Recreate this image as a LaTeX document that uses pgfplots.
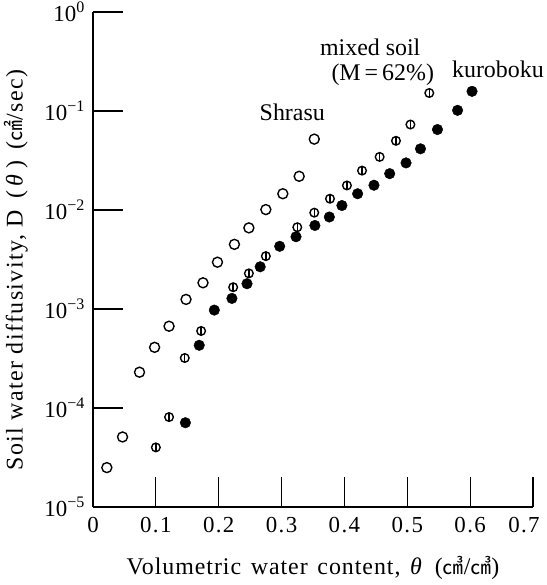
\documentclass[border=0pt]{standalone}
\usepackage{fontspec}
\setmainfont{Liberation Serif}
\newfontfamily\labelfont{Liberation Serif}[LetterSpace=4, WordSpace=1.4]
\newfontfamily\ylabelfont{Liberation Serif}[LetterSpace=6, WordSpace=1.5]
\newfontfamily\tickfont{Liberation Serif}[LetterSpace=6]
\newfontfamily\cjk{Noto Sans CJK JP}
\usepackage{pgfplots}
\pgfplotsset{compat=1.18}

% circle with a vertical bar through it (mixed soil)
\pgfdeclareplotmark{ovbar}{%
  \pgfpathcircle{\pgfpointorigin}{\pgfplotmarksize}\pgfusepathqstroke
  \pgfpathmoveto{\pgfqpoint{0pt}{-\pgfplotmarksize}}%
  \pgfpathlineto{\pgfqpoint{0pt}{\pgfplotmarksize}}\pgfusepathqstroke}

\newcommand{\unitcm}[1]{{\cjk\fontsize{21}{21}\selectfont #1}}

\begin{document}
\fontsize{24}{28}\selectfont
\begin{tikzpicture}
\begin{axis}[
    scale only axis,
    width=440bp, height=495bp,
    ymode=log,
    xmin=0, xmax=0.7,
    ymin=1e-5, ymax=1,
    axis x line=bottom, axis y line=left,
    axis line style={-, line width=1.6pt},
    tick align=inside,
    major tick length=30bp,
    major tick style={line width=1.2pt, black},
    yminorticks=false,
    xtick={0,0.1,0.2,0.3,0.4,0.5,0.6},
    xticklabels={0,0.1,0.2,0.3,0.4,0.5,0.6},
    extra x ticks={0.7},
    extra x tick labels={0.7},
    extra x tick style={grid=none, xticklabel style={xshift=-9bp}},
    ytick={1e-5,1e-4,1e-3,1e-2,1e-1,1},
    yticklabels={10\textsuperscript{−5},10\textsuperscript{−4},10\textsuperscript{−3},10\textsuperscript{−2},10\textsuperscript{−1},10\textsuperscript{0}},
    tick label style={font=\fontsize{23}{24}\selectfont},
    xticklabel style={yshift=-2bp, font=\fontsize{23}{24}\selectfont\tickfont},
    label style={font=\fontsize{24}{28}\selectfont\labelfont},
    xlabel={Volumetric water content, \textit{θ}\enspace(\unitcm{㎤}/\unitcm{㎤})},
    ylabel={Soil water diffusivity, D\enspace(\,\textit{θ}\,)\enspace(\unitcm{㎠}/sec)},
    xlabel style={at={(axis description cs:0.5,-0.123)}, anchor=center},
    ylabel style={at={(axis description cs:-0.175,0.479)}, anchor=center, font=\fontsize{24}{28}\selectfont\ylabelfont},
    clip=false,
  ]

  % Shrasu (open circles)
  \addplot[only marks, mark=o, mark size=5bp, mark options={line width=1.4pt, fill=white}] coordinates {
    (0.022, 2.5e-5) (0.047, 5.1e-5) (0.074, 2.3e-4) (0.098, 4.1e-4)
    (0.121, 6.7e-4) (0.148, 1.25e-3) (0.175, 1.84e-3) (0.198, 2.97e-3)
    (0.225, 4.5e-3) (0.248, 6.6e-3) (0.275, 1.01e-2) (0.302, 1.46e-2)
    (0.328, 2.19e-2) (0.352, 5.2e-2)
  };

  % mixed soil (barred circles)
  \addplot[only marks, mark=ovbar, mark size=4.3bp, mark options={line width=1.4pt}] coordinates {
    (0.100, 4.0e-5) (0.121, 8.1e-5) (0.146, 3.2e-4) (0.172, 6.0e-4)
    (0.223, 1.66e-3) (0.248, 2.29e-3) (0.275, 3.42e-3) (0.325, 6.7e-3)
    (0.352, 9.4e-3) (0.377, 1.30e-2) (0.404, 1.77e-2) (0.428, 2.5e-2)
    (0.456, 3.44e-2) (0.482, 5.0e-2) (0.505, 7.3e-2) (0.535, 0.152)
  };

  % kuroboku (filled circles)
  \addplot[only marks, mark=*, mark size=5.3bp, black] coordinates {
    (0.147, 7.1e-5) (0.169, 4.3e-4) (0.193, 9.75e-4) (0.221, 1.28e-3)
    (0.245, 1.80e-3) (0.266, 2.67e-3) (0.297, 4.3e-3) (0.323, 5.37e-3)
    (0.353, 6.98e-3) (0.376, 8.5e-3) (0.396, 1.11e-2) (0.421, 1.46e-2)
    (0.447, 1.78e-2) (0.472, 2.33e-2) (0.498, 2.99e-2) (0.521, 4.15e-2)
    (0.548, 6.5e-2) (0.580, 0.1016) (0.603, 0.158)
  };

  \node[anchor=center] at (axis cs:0.317,0.096) {Shrasu};
  \node[anchor=center] at (axis cs:0.441,0.436) {mixed soil};
  \node[anchor=center] at (axis cs:0.461,0.233) {(M\,=\,62\%)};
  \node[anchor=west, inner sep=0pt] at (axis cs:0.571,0.262) {kuroboku};
\end{axis}
\pgfresetboundingbox
\path[use as bounding box] (current axis.south west) ++(-93bp,-78bp) rectangle ++(547bp,585bp);
\end{tikzpicture}
\end{document}
